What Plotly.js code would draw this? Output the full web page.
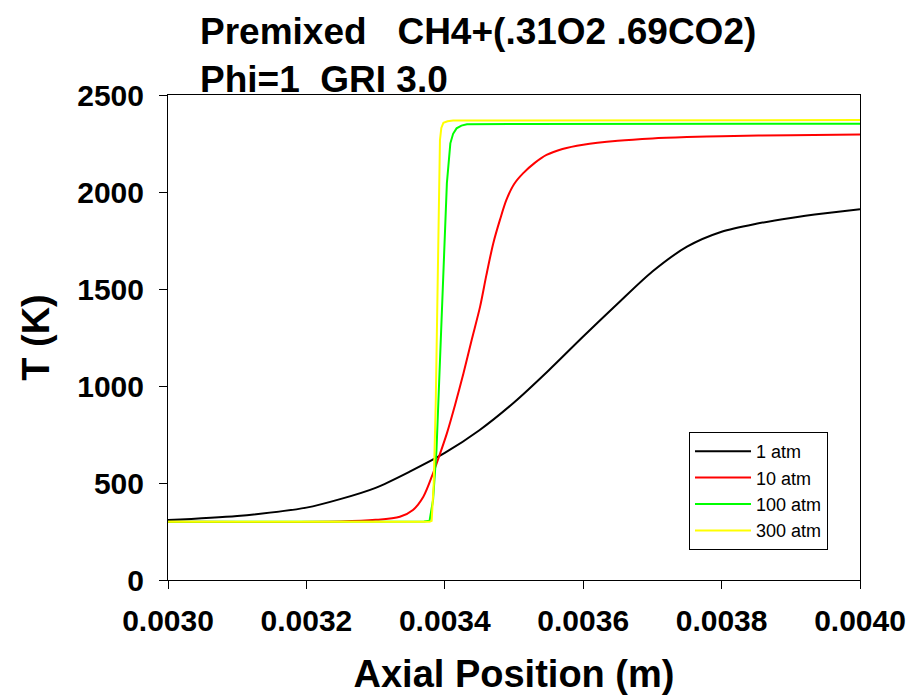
<!DOCTYPE html>
<html>
<head>
<meta charset="utf-8">
<script src="https://cdn.plot.ly/plotly-3.0.1.min.js"></script>
<style>html,body{margin:0;padding:0;background:#fff;}#chart{width:912px;height:697px;}</style>
</head>
<body>
<div id="chart"></div>
<script>
// Axial position (m) and temperature (K) for each pressure
const x1atm = [0.0030, 0.0031, 0.0032, 0.00325, 0.0033, 0.00335, 0.0034, 0.00345, 0.0035, 0.00355, 0.0036, 0.00365, 0.0037, 0.00375, 0.0038, 0.00385, 0.0039, 0.00395, 0.0040];
const t1atm = [309, 330, 373, 418, 475, 560, 655, 772, 915, 1080, 1255, 1425, 1590, 1718, 1795, 1836, 1866, 1890, 1911];

const x10atm = [0.0030, 0.00325, 0.0033, 0.003335, 0.003354, 0.003369, 0.003383, 0.003393, 0.003403, 0.003415, 0.003427, 0.003439, 0.003451, 0.00346, 0.00347, 0.00348, 0.003489, 0.0035, 0.003513, 0.00353, 0.003547, 0.00357, 0.0036, 0.00365, 0.0037, 0.00375, 0.0038, 0.0039, 0.0040];
const t10atm = [300, 302, 310, 326, 361, 429, 550, 650, 756, 905, 1066, 1240, 1409, 1570, 1735, 1860, 1959, 2040, 2096, 2150, 2191, 2222, 2244, 2264, 2276, 2283, 2288, 2293, 2296];

const x100atm = [0.0030, 0.00337, 0.003378, 0.003383, 0.003388, 0.003393, 0.003398, 0.003403, 0.003408, 0.003412, 0.003417, 0.003424, 0.003432, 0.00345, 0.0035, 0.0040];
const t100atm = [300, 301, 306, 412, 670, 1100, 1615, 2045, 2251, 2300, 2328, 2342, 2349, 2350, 2351, 2352];

const x300atm = [0.0030, 0.003378, 0.003381, 0.003384, 0.003387, 0.003389, 0.003392, 0.003393, 0.003395, 0.003398, 0.003404, 0.003412, 0.0040];
const t300atm = [300, 300, 305, 498, 928, 1443, 1959, 2268, 2330, 2357, 2365, 2368, 2371];

const seriesNames = ['1 atm', '10 atm', '100 atm', '300 atm'];
const seriesColors = ['#000000', '#ff0000', '#00ff00', '#ffff00'];

const xTicks = [0.0030, 0.0032, 0.0034, 0.0036, 0.0038, 0.0040];
const xTickLabels = ['0.0030', '0.0032', '0.0034', '0.0036', '0.0038', '0.0040'];
const yTicks = [0, 500, 1000, 1500, 2000, 2500];
const yTickLabels = ['0', '500', '1000', '1500', '2000', '2500'];

const xs = [x1atm, x10atm, x100atm, x300atm];
const ts = [t1atm, t10atm, t100atm, t300atm];
const shapes = ['spline', 'spline', 'linear', 'linear'];

const traces = xs.map((x, i) => ({
  x: x, y: ts[i], type: 'scatter', mode: 'lines', name: seriesNames[i],
  line: {color: seriesColors[i], width: 2, shape: shapes[i], smoothing: 0.8}
}));

const F = '"Liberation Sans", Arial, sans-serif';
const layout = {
  width: 912, height: 697,
  margin: {l: 168, r: 52, t: 95, b: 117},
  paper_bgcolor: '#ffffff', plot_bgcolor: '#ffffff',
  showlegend: true,
  title: {
    text: 'Premixed\u00a0\u00a0\u00a0CH4+(.31O2 .69CO2)<br>Phi=1\u00a0\u00a0GRI 3.0',
    font: {family: F, size: 37, color: '#000', weight: 'bold'},
    xref: 'container', yref: 'container', x: 200/912, xanchor: 'left',
    y: 1 - 44/697, yanchor: 'top'
  },
  xaxis: {
    range: [0.0030, 0.0040], tickvals: xTicks, ticktext: xTickLabels,
    ticks: 'outside', ticklen: 8, tickwidth: 1, tickcolor: '#000',
    showline: true, linecolor: '#000', linewidth: 1, mirror: true,
    showgrid: false, zeroline: false, ticklabelstandoff: 6,
    tickfont: {family: F, size: 30, color: '#000', weight: 'bold'},
    title: {text: 'Axial Position (m)', font: {family: F, size: 38, color: '#000', weight: 'bold'}, standoff: 24}
  },
  yaxis: {
    range: [0, 2500], tickvals: yTicks, ticktext: yTickLabels,
    ticks: 'outside', ticklen: 8, tickwidth: 1, tickcolor: '#000',
    showline: true, linecolor: '#000', linewidth: 1, mirror: true,
    showgrid: false, zeroline: false, ticklabelstandoff: 9,
    tickfont: {family: F, size: 30, color: '#000', weight: 'bold'},
    title: {text: 'T (K)', font: {family: F, size: 38, color: '#000', weight: 'bold'}, standoff: 15}
  },
  legend: {
    x: (689 - 168) / 692, y: (580 - 432) / 485, xanchor: 'left', yanchor: 'top',
    bgcolor: '#ffffff', bordercolor: '#000', borderwidth: 1,
    font: {family: F, size: 18, color: '#000'},
    itemwidth: 56, tracegroupgap: 0
  }
};

Plotly.newPlot('chart', traces, layout, {displayModeBar: false, staticPlot: true});
</script>
</body>
</html>
